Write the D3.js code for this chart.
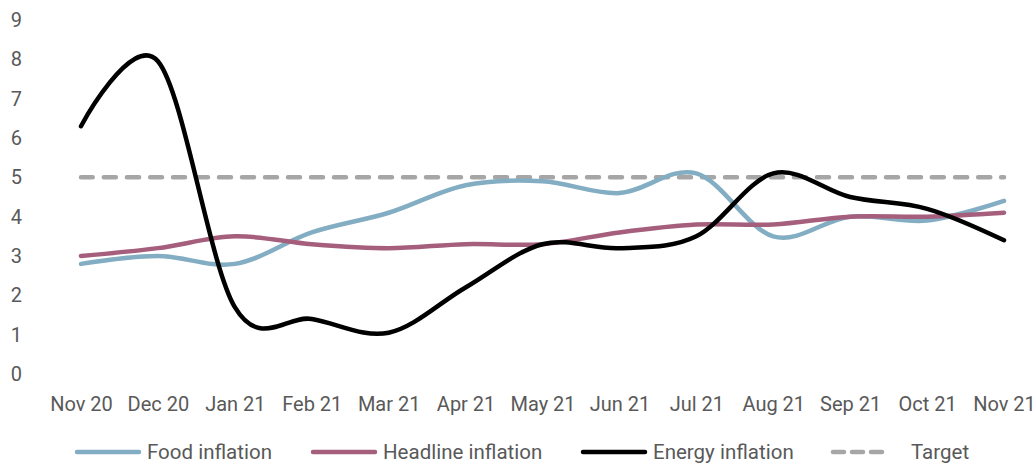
<!DOCTYPE html>
<html>
<head>
<meta charset="utf-8">
<script src="https://cdn.jsdelivr.net/npm/d3@7"></script>
<style>
  body { margin: 0; background: #fff; }
  svg { display: block; }
  text { font-family: Roboto, "DejaVu Sans", sans-serif; fill: #595959; }
</style>
</head>
<body>
<svg width="1036" height="464"></svg>
<script>
const months = ["Nov 20","Dec 20","Jan 21","Feb 21","Mar 21","Apr 21","May 21","Jun 21","Jul 21","Aug 21","Sep 21","Oct 21","Nov 21"];
const food     = [2.8, 3.0, 2.8, 3.6, 4.1, 4.8, 4.9, 4.6, 5.1, 3.5, 4.0, 3.9, 4.4];
const headline = [3.0, 3.2, 3.5, 3.3, 3.2, 3.3, 3.3, 3.6, 3.8, 3.8, 4.0, 4.0, 4.1];
const energy   = [6.3, 7.95, 1.7, 1.4, 1.05, 2.2, 3.3, 3.2, 3.5, 5.1, 4.5, 4.2, 3.4];
const target   = [5, 5, 5, 5, 5, 5, 5, 5, 5, 5, 5, 5, 5];
const yTicks = [0, 1, 2, 3, 4, 5, 6, 7, 8, 9];

const series = [
  { name: "Food inflation", values: food, color: "#82adc2", dash: null },
  { name: "Headline inflation", values: headline, color: "#a55f7c", dash: null },
  { name: "Energy inflation", values: energy, color: "#000000", dash: null },
  { name: "Target", values: target, color: "#a6a6a6", dash: "12,11" }
];

const svg = d3.select("svg");

const x = d3.scalePoint().domain(months).range([81, 1004]);
const y = d3.scaleLinear().domain([0, 9]).range([374, 20]);

// y axis labels, no lines
const yAxis = d3.axisLeft(y).tickValues(yTicks).tickSize(0).tickPadding(0);
svg.append("g")
    .attr("transform", "translate(22,0)")
    .call(yAxis)
    .call(g => g.select(".domain").remove())
    .call(g => g.selectAll("text")
      .style("font-size", "20px")
      .attr("font-family", null)
      .attr("fill", null));

const xAxis = d3.axisBottom(x).tickSize(0).tickPadding(0);
svg.append("g")
    .attr("transform", "translate(0,397)")
    .call(xAxis)
    .call(g => g.select(".domain").remove())
    .call(g => g.selectAll("text")
      .style("font-size", "20px")
      .attr("font-family", null)
      .attr("fill", null));

const line = d3.line()
    .x((d, i) => x(months[i]))
    .y(d => y(d))
    .curve(d3.curveCatmullRom.alpha(0));

// draw order: target behind, then food, headline, energy
const order = [3, 0, 1, 2];
svg.append("g")
  .selectAll("path")
  .data(order.map(i => series[i]))
  .join("path")
    .attr("d", d => line(d.values))
    .attr("fill", "none")
    .attr("stroke", d => d.color)
    .attr("stroke-width", 4.5)
    .attr("stroke-linecap", "round")
    .attr("stroke-dasharray", d => d.dash);

// legend
const legendX = [77, 313, 583, 833];
const legend = svg.append("g")
  .selectAll("g")
  .data(series)
  .join("g")
    .attr("transform", (d, i) => `translate(${legendX[i]},452)`);

legend.append("line")
    .attr("x1", 0).attr("x2", d => d.dash ? 52 : 62)
    .attr("stroke", d => d.color)
    .attr("stroke-width", 4.5)
    .attr("stroke-linecap", "round")
    .attr("stroke-dasharray", d => d.dash ? "11,8" : null);

legend.append("text")
    .attr("x", d => d.dash ? 78 : 70)
    .attr("dy", "0.35em")
    .style("font-size", "20.5px")
    .text(d => d.name);
</script>
</body>
</html>
